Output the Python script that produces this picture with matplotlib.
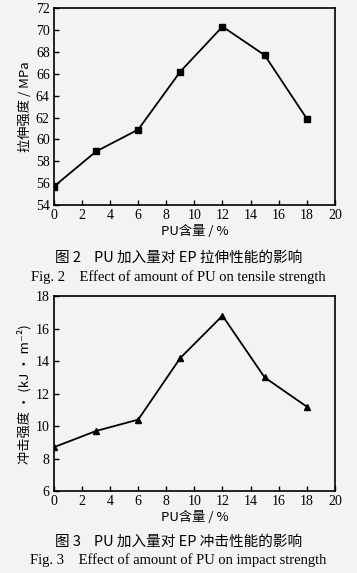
import matplotlib
matplotlib.use("Agg")
import matplotlib.pyplot as plt

pu = [0, 3, 6, 9, 12, 15, 18]
tensile = [55.7, 58.9, 60.9, 66.2, 70.3, 67.7, 61.9]
impact = [8.7, 9.7, 10.4, 14.2, 16.8, 13.0, 11.2]

xticks = [0, 2, 4, 6, 8, 10, 12, 14, 16, 18, 20]
yticks_top = [54, 56, 58, 60, 62, 64, 66, 68, 70, 72]
yticks_bot = [6, 8, 10, 12, 14, 16, 18]

FAM = ['Liberation Serif', 'Noto Sans CJK SC', 'DejaVu Sans']
CJK = ['Noto Sans CJK SC', 'Liberation Serif', 'DejaVu Sans']
plt.rcParams['font.family'] = FAM

bg = '#f3f3f3'
W = 500
fig = plt.figure(figsize=(3.57, 5.73), dpi=100, facecolor=bg)

def setup(ax, yticks):
    ax.set_facecolor(bg)
    ax.set_xlim(0, 20)
    ax.set_xticks(xticks)
    ax.set_ylim(yticks[0], yticks[-1])
    ax.set_yticks(yticks)
    ax.tick_params(direction='in', length=3.5, width=1.0, labelsize=10, pad=3)
    for s in ax.spines.values():
        s.set_linewidth(1.2)

ax1 = fig.add_axes([0.151, 0.642, 0.787, 0.344])
ax1.plot(pu, tensile, color='black', lw=1.3, marker='s', ms=4.5)
setup(ax1, yticks_top)
ax1.set_ylabel('拉伸强度 / MPa', family=CJK, fontsize=9.5, fontweight=W, labelpad=3)
ax1.set_xlabel('PU含量 / %', family=CJK, fontsize=9.5, fontweight=W, labelpad=2)

ax2 = fig.add_axes([0.151, 0.143, 0.787, 0.340])
ax2.plot(pu, impact, color='black', lw=1.3, marker='^', ms=4.5)
setup(ax2, yticks_bot)
ax2.set_ylabel('冲击强度 · (kJ · m⁻²)', family=CJK, fontsize=9.5, fontweight=W, labelpad=3)
ax2.set_xlabel('PU含量 / %', family=CJK, fontsize=9.5, fontweight=W, labelpad=2)

fig.text(0.5, 1 - 258/573, '图 2    PU 加入量对 EP 拉伸性能的影响', family=CJK, fontsize=10.5,
         fontweight=W, ha='center', va='center')
fig.text(0.5, 1 - 277/573, 'Fig. 2    Effect of amount of PU on tensile strength', family=FAM,
         fontsize=10.5, ha='center', va='center')
fig.text(0.5, 1 - 542/573, '图 3    PU 加入量对 EP 冲击性能的影响', family=CJK, fontsize=10.5,
         fontweight=W, ha='center', va='center')
fig.text(0.5, 1 - 560/573, 'Fig. 3    Effect of amount of PU on impact strength', family=FAM,
         fontsize=10.5, ha='center', va='center')

fig.savefig('out.png', dpi=100, facecolor=bg)
